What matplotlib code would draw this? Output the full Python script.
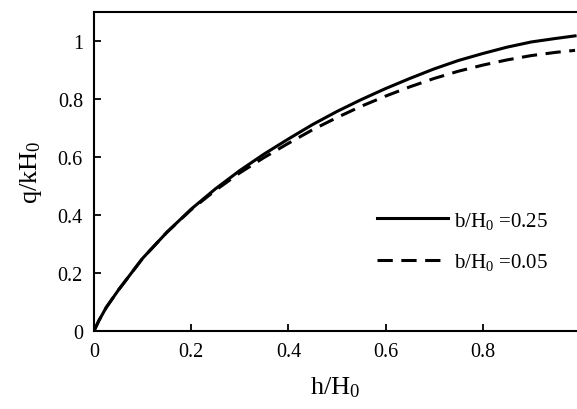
import matplotlib
matplotlib.use("Agg")
import matplotlib.pyplot as plt

plt.rcParams["font.family"] = "Liberation Serif"
plt.rcParams["mathtext.fontset"] = "custom"
plt.rcParams["mathtext.rm"] = "Liberation Serif"
plt.rcParams["mathtext.it"] = "Liberation Serif"

# h/H0 sample points
h_ratio = [0, 0.01, 0.025, 0.05, 0.1, 0.15, 0.2, 0.25, 0.3, 0.35, 0.4, 0.45, 0.5,
           0.55, 0.6, 0.65, 0.7, 0.75, 0.8, 0.85, 0.9, 0.95, 0.99]
# q/kH0 for b/H0 = 0.25
q_025 = [0, 0.035, 0.08, 0.14, 0.25, 0.34, 0.42, 0.49, 0.553, 0.61, 0.662, 0.712, 0.757,
         0.798, 0.836, 0.871, 0.904, 0.933, 0.957, 0.979, 0.997, 1.009, 1.018]
# q/kH0 for b/H0 = 0.05
q_005 = [0, 0.035, 0.08, 0.14, 0.25, 0.34, 0.418, 0.485, 0.545, 0.598, 0.647, 0.694, 0.736,
         0.775, 0.81, 0.842, 0.871, 0.896, 0.917, 0.935, 0.95, 0.961, 0.968]

fig = plt.figure(figsize=(5.77, 4.10), dpi=100)
ax = fig.add_axes([0.163, 0.191, 0.837, 0.777])

ax.plot(h_ratio, q_025, color="black", linewidth=2.2, label="b/H$_0$ =0.25")
ax.plot(h_ratio, q_005, color="black", linewidth=2.2, dashes=(5, 2.8), label="b/H$_0$ =0.05")

ax.set_xlim(0, 0.994)
ax.set_ylim(0, 1.1)
ax.set_xticks([0, 0.2, 0.4, 0.6, 0.8])
ax.set_xticklabels(["0", "0.2", "0.4", "0.6", "0.8"])
ax.set_yticks([0, 0.2, 0.4, 0.6, 0.8, 1.0])
ax.set_yticklabels(["0", "0.2", "0.4", "0.6", "0.8", "1"])
ax.tick_params(direction="in", length=5, width=1.3, labelsize=14.5, pad=8)
for s in ["left", "bottom", "top"]:
    ax.spines[s].set_linewidth(1.5)
ax.spines["right"].set_visible(False)

ax.set_xlabel("h/H$_0$", fontsize=19, labelpad=10)
ax.set_ylabel("q/kH$_0$", fontsize=19, labelpad=10)

ax.legend(loc="upper left", bbox_to_anchor=(0.565, 0.413), frameon=False, fontsize=15,
          borderpad=0, handlelength=3.4, handletextpad=0.3, labelspacing=1.0)

fig.savefig("out.png", dpi=100)
